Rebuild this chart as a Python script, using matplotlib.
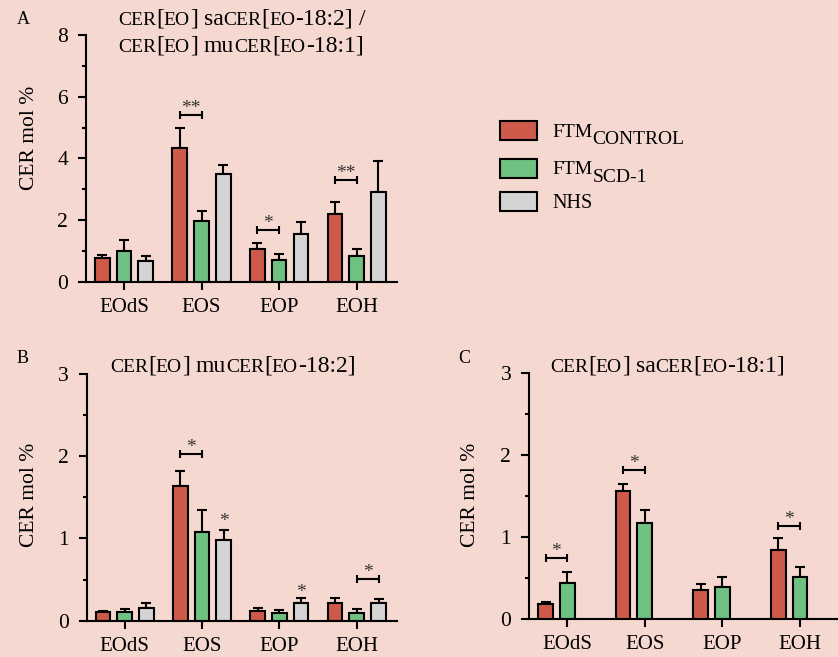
import numpy as np
import matplotlib
matplotlib.use("Agg")
import matplotlib.pyplot as plt
from matplotlib.patches import Rectangle

plt.rcParams["font.family"] = ["Liberation Serif", "DejaVu Serif"]

# ---- data -----------------------------------------------------------------
categories = ["EOdS", "EOS", "EOP", "EOH"]
groups = ["FTM_CONTROL", "FTM_SCD-1", "NHS"]

# panel A: CER[EO] saCER[EO-18:2] / CER[EO] muCER[EO-18:1]
a_control = [0.76, 4.35, 1.07, 2.19]
a_control_err = [0.10, 0.65, 0.18, 0.38]
a_scd1 = [1.00, 1.98, 0.71, 0.83]
a_scd1_err = [0.35, 0.32, 0.20, 0.23]
a_nhs = [0.68, 3.49, 1.56, 2.92]
a_nhs_err = [0.15, 0.28, 0.39, 0.98]

# panel B: CER[EO] muCER[EO-18:2]
b_control = [0.10, 1.64, 0.12, 0.22]
b_control_err = [0.02, 0.18, 0.04, 0.06]
b_scd1 = [0.10, 1.08, 0.09, 0.09]
b_scd1_err = [0.04, 0.27, 0.04, 0.05]
b_nhs = [0.16, 0.98, 0.22, 0.21]
b_nhs_err = [0.05, 0.12, 0.06, 0.05]

# panel C: CER[EO] saCER[EO-18:1]
c_control = [0.19, 1.56, 0.36, 0.85]
c_control_err = [0.025, 0.09, 0.07, 0.14]
c_scd1 = [0.44, 1.18, 0.40, 0.52]
c_scd1_err = [0.14, 0.15, 0.11, 0.12]

# significance: (category, bar from, bar to, level, label)
a_brackets = [(1, 0, 1, 5.41, "**"), (2, 0, 1, 1.68, "*"), (3, 0, 1, 3.29, "**")]
b_brackets = [(1, 0, 1, 2.03, "*"), (3, 1, 2, 0.51, "*")]
b_stars = [(1, 2, 1.28, "*"), (2, 2, 0.42, "*")]
c_brackets = [(0, 0, 1, 0.75, "*"), (1, 0, 1, 1.82, "*"), (3, 0, 1, 1.14, "*")]

# ---- style ----------------------------------------------------------------
BG = "#f5d8cf"
COLORS = ["#cd5a4a", "#6fc182", "#d4d4d4"]
LW = 1.5
W, H, DPI = 838, 657, 100
OFFSET = 0.281
BAR_W = 0.19

fig = plt.figure(figsize=(W / DPI, H / DPI), dpi=DPI, facecolor=BG)


def px_axes(left, top, width, height):
    return fig.add_axes([left / W, 1 - (top + height) / H, width / W, height / H])


def style_axes(ax, ymax, major, minor):
    ax.set_facecolor(BG)
    ax.patch.set_alpha(0)
    for s in ("top", "right"):
        ax.spines[s].set_visible(False)
    for s in ("left", "bottom"):
        ax.spines[s].set_linewidth(LW)
    ax.set_xlim(-0.49, 3.52)
    ax.set_ylim(0, ymax)
    ax.set_yticks(np.arange(0, ymax + 0.001, major))
    ax.set_yticks(np.arange(minor, ymax, minor * 2), minor=True)
    ax.set_yticklabels([f"{v:g}" for v in np.arange(0, ymax + 0.001, major)], fontsize=15.5)
    ax.tick_params(axis="y", which="major", length=6, width=LW, pad=7)
    ax.tick_params(axis="y", which="minor", length=3.2, width=LW)
    ax.set_xticks(range(len(categories)))
    ax.set_xticklabels(categories, fontsize=15)
    ax.tick_params(axis="x", length=5.5, width=LW, pad=6)


def draw_bars(ax, series):
    x = np.arange(len(categories))
    for i, (vals, errs) in enumerate(series):
        pos = x + (i - 1) * OFFSET
        ax.bar(pos, vals, width=BAR_W, color=COLORS[i], edgecolor="black",
               linewidth=LW, zorder=2)
        ax.errorbar(pos, vals, yerr=[np.zeros(len(vals)), errs], fmt="none",
                    ecolor="black", elinewidth=LW, capsize=3.4, capthick=LW, zorder=1)


def draw_sig(ax, brackets, stars=()):
    for cat, i0, i1, y, label in brackets:
        x0 = cat + (i0 - 1) * OFFSET
        x1 = cat + (i1 - 1) * OFFSET
        ax.plot([x0, x1], [y, y], color="black", lw=LW, solid_capstyle="butt")
        ax.plot([x0, x1], [y, y], ls="none", marker="|", ms=6, mew=LW, color="black")
        ax.annotate(label, ((x0 + x1) / 2, y), xytext=(0, 1.5), textcoords="offset points",
                    ha="center", va="baseline", fontsize=14, color="#333333")
    for cat, i, y, label in stars:
        xx = cat + (i - 1) * OFFSET
        ax.annotate(label, (xx, y), xytext=(0, -7.5), textcoords="offset points",
                    ha="center", va="baseline", fontsize=14, color="#333333")


renderer = fig.canvas.get_renderer()


def draw_runs(x, y, runs, color="black"):
    """Place text pieces of different sizes side by side on one baseline.
    Coordinates are pixels from the top-left corner; each run is
    (text, fontsize, vertical shift in px) or (None, gap in px)."""
    cur = x
    for run in runs:
        if run[0] is None:
            cur += run[1]
            continue
        s, size, dy = run
        t = fig.text(cur / W, 1 - (y + dy) / H, s, fontsize=size, ha="left",
                     va="baseline", color=color)
        cur += t.get_window_extent(renderer).width
    return cur


def title_runs(prefix, tail, big=17, sc=14):
    return [("CER", sc, 0), ("[", big, 0), ("EO", sc, 0), ("]", big, 0), (None, 6),
            (prefix, big, 0), ("CER", sc, 0), ("[", big, 0), ("EO", sc, 0),
            (tail, big, 0)]


# ---- panel A --------------------------------------------------------------
axA = px_axes(86, 35, 311, 246.7)
style_axes(axA, 8, 2, 1)
draw_bars(axA, [(a_control, a_control_err), (a_scd1, a_scd1_err), (a_nhs, a_nhs_err)])
draw_sig(axA, a_brackets)

# ---- panel B --------------------------------------------------------------
axB = px_axes(86.7, 374, 310.3, 246.7)
style_axes(axB, 3, 1, 0.5)
draw_bars(axB, [(b_control, b_control_err), (b_scd1, b_scd1_err), (b_nhs, b_nhs_err)])
draw_sig(axB, b_brackets, b_stars)

# ---- panel C --------------------------------------------------------------
axC = px_axes(529.3, 373.3, 311, 246)
style_axes(axC, 3, 1, 0.5)
draw_bars(axC, [(c_control, c_control_err), (c_scd1, c_scd1_err)])
draw_sig(axC, c_brackets)

# ---- y labels -------------------------------------------------------------
for xl, yl in [(30, 138), (30, 495), (470, 495)]:
    fig.text(xl / W, 1 - yl / H, "CER mol %", rotation=90, ha="center", va="center",
             fontsize=15.5)

# ---- panel letters --------------------------------------------------------
for letter, xl, yl in [("A", 17, 24), ("B", 17, 363), ("C", 458, 363)]:
    fig.text(xl / W, 1 - yl / H, letter, fontsize=13, ha="left", va="baseline")

# ---- titles ---------------------------------------------------------------
end = draw_runs(118, 25, title_runs("sa", "-18:2]"))
draw_runs(end + 6, 25, [("/", 17, 0)])
draw_runs(118, 51.7, title_runs("mu", "-18:1]"))
draw_runs(110, 371.7, title_runs("mu", "-18:2]"))
draw_runs(550, 371.7, title_runs("sa", "-18:1]"))

# ---- legend ---------------------------------------------------------------
legend_rows = [
    (130.5, [("FTM", 14, 0), ("CONTROL", 14, 7)]),
    (168.0, [("FTM", 14, 0), ("SCD-1", 14, 7.5)]),
    (202.0, [("NHS", 14.5, 0)]),
]
for (yc, runs), col in zip(legend_rows, COLORS):
    fig.patches.append(Rectangle((500 / W, 1 - (yc + 9.5) / H), 37 / W, 19 / H,
                                 transform=fig.transFigure, facecolor=col,
                                 edgecolor="black", linewidth=LW))
    draw_runs(552, yc + 6.5, runs)

fig.savefig("out.png", dpi=DPI, facecolor=BG)
